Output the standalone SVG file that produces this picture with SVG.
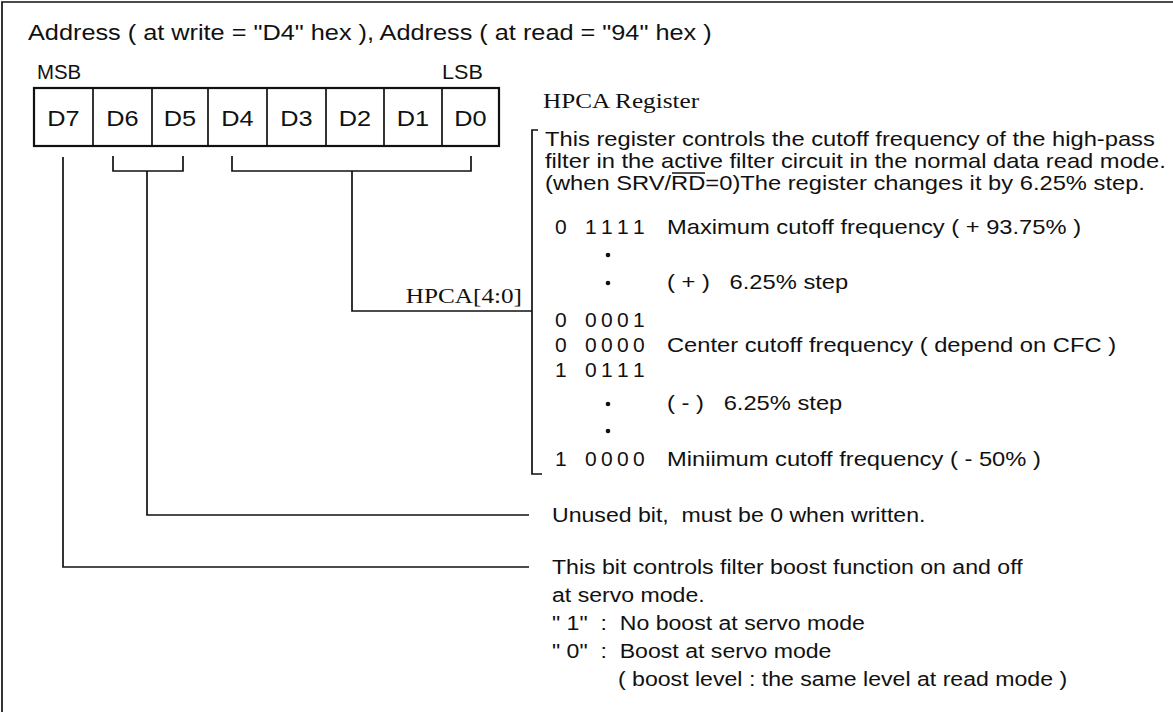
<svg xmlns="http://www.w3.org/2000/svg" width="1173" height="712" viewBox="0 0 1173 712">
<style>
.t{font-family:"Liberation Sans",Arial,sans-serif;font-size:21px;fill:#111}
.s{font-family:"Liberation Serif","Times New Roman",serif;font-size:21px;fill:#111}
.ln{stroke:#111;stroke-width:1.7;fill:none}
.box{stroke:#111;stroke-width:2.2;fill:#fff}
.dot{fill:#111}
</style>
<rect width="1173" height="712" fill="#fff"/>
<g id="frame"><path class="ln" d="M2 712V2H1173" stroke-width="3"/></g>
<g id="title">
<text class="t" style="font-size:22px" transform="translate(28 40) scale(1.15 1)">Address ( at write = "D4" hex ), Address ( at read = "94" hex )</text>
<text class="t" style="font-size:20px" transform="translate(37 79) scale(1.02 1)">MSB</text>
<text class="t" style="font-size:20px" transform="translate(442 79) scale(1.08 1)">LSB</text>
</g>
<g id="register" text-anchor="middle">
<rect class="box" x="34" y="88" width="465" height="58"/>
<path class="ln" stroke-width="2.2" d="M93 88V146M152 88V146M208 88V146M267 88V146M326 88V146M384 88V146M442 88V146"/>
<text class="t" style="font-size:22px" transform="translate(63.5 126) scale(1.15 1)">D7</text>
<text class="t" style="font-size:22px" transform="translate(122.5 126) scale(1.15 1)">D6</text>
<text class="t" style="font-size:22px" transform="translate(180 126) scale(1.15 1)">D5</text>
<text class="t" style="font-size:22px" transform="translate(237.5 126) scale(1.15 1)">D4</text>
<text class="t" style="font-size:22px" transform="translate(296.5 126) scale(1.15 1)">D3</text>
<text class="t" style="font-size:22px" transform="translate(355 126) scale(1.15 1)">D2</text>
<text class="t" style="font-size:22px" transform="translate(413 126) scale(1.15 1)">D1</text>
<text class="t" style="font-size:22px" transform="translate(470.5 126) scale(1.15 1)">D0</text>
</g>
<g id="connectors">
<path class="ln" d="M113 156V171H183V156M147 171V515H529"/>
<path class="ln" d="M232 156V171H471V156M352 171V311H532"/>
<path class="ln" d="M63 157V567H529"/>
<path class="ln" d="M538 130H532V474H542"/>
</g>
<g id="hpca-label"><text class="s" text-anchor="end" transform="translate(522 303) scale(1.2 1)">HPCA[4:0]</text></g>
<g id="hpca-desc">
<text class="s" transform="translate(543 108) scale(1.2 1)">HPCA Register</text>
<text class="t" transform="translate(545 146) scale(1.13 1)">This register controls the cutoff frequency of the high-pass</text>
<text class="t" transform="translate(545 168) scale(1.13 1)">filter in the active filter circuit in the normal data read mode.</text>
<text class="t" transform="translate(545 190) scale(1.13 1)">(when SRV/RD=0)The register changes it by 6.25% step.</text>
<line class="ln" x1="672" y1="173" x2="705" y2="173" stroke-width="1.4"/>
<text class="t" x="555" y="234">0</text><text class="t" x="585 601 617 633" y="234">1111</text>
<text class="t" transform="translate(667 234) scale(1.13 1)">Maximum cutoff frequency ( + 93.75% )</text>
<circle class="dot" cx="608" cy="255" r="2.3"/>
<circle class="dot" cx="608" cy="283" r="2.3"/>
<text class="t" xml:space="preserve" transform="translate(667 289) scale(1.13 1)">( + )   6.25% step</text>
<text class="t" x="555" y="327">0</text><text class="t" x="585 601 617 633" y="327">0001</text>
<text class="t" x="555" y="352">0</text><text class="t" x="585 601 617 633" y="352">0000</text>
<text class="t" transform="translate(667 352) scale(1.13 1)">Center cutoff frequency ( depend on CFC )</text>
<text class="t" x="555" y="377">1</text><text class="t" x="585 601 617 633" y="377">0111</text>
<circle class="dot" cx="608" cy="404" r="2.3"/>
<text class="t" xml:space="preserve" transform="translate(667 410) scale(1.13 1)">( - )   6.25% step</text>
<circle class="dot" cx="608" cy="431" r="2.3"/>
<text class="t" x="555" y="466">1</text><text class="t" x="585 601 617 633" y="466">0000</text>
<text class="t" transform="translate(667 466) scale(1.13 1)">Miniimum cutoff frequency ( - 50% )</text>
</g>
<g id="unused-desc"><text class="t" xml:space="preserve" transform="translate(552 522) scale(1.1 1)">Unused bit,  must be 0 when written.</text></g>
<g id="boost-desc">
<text class="t" transform="translate(552 574) scale(1.1 1)">This bit controls filter boost function on and off</text>
<text class="t" transform="translate(552 602) scale(1.1 1)">at servo mode.</text>
<text class="t" xml:space="preserve" transform="translate(552 630) scale(1.1 1)">" 1"  :  No boost at servo mode</text>
<text class="t" xml:space="preserve" transform="translate(552 658) scale(1.1 1)">" 0"  :  Boost at servo mode</text>
<text class="t" transform="translate(618 686) scale(1.1 1)">( boost level : the same level at read mode )</text>
</g>
</svg>
